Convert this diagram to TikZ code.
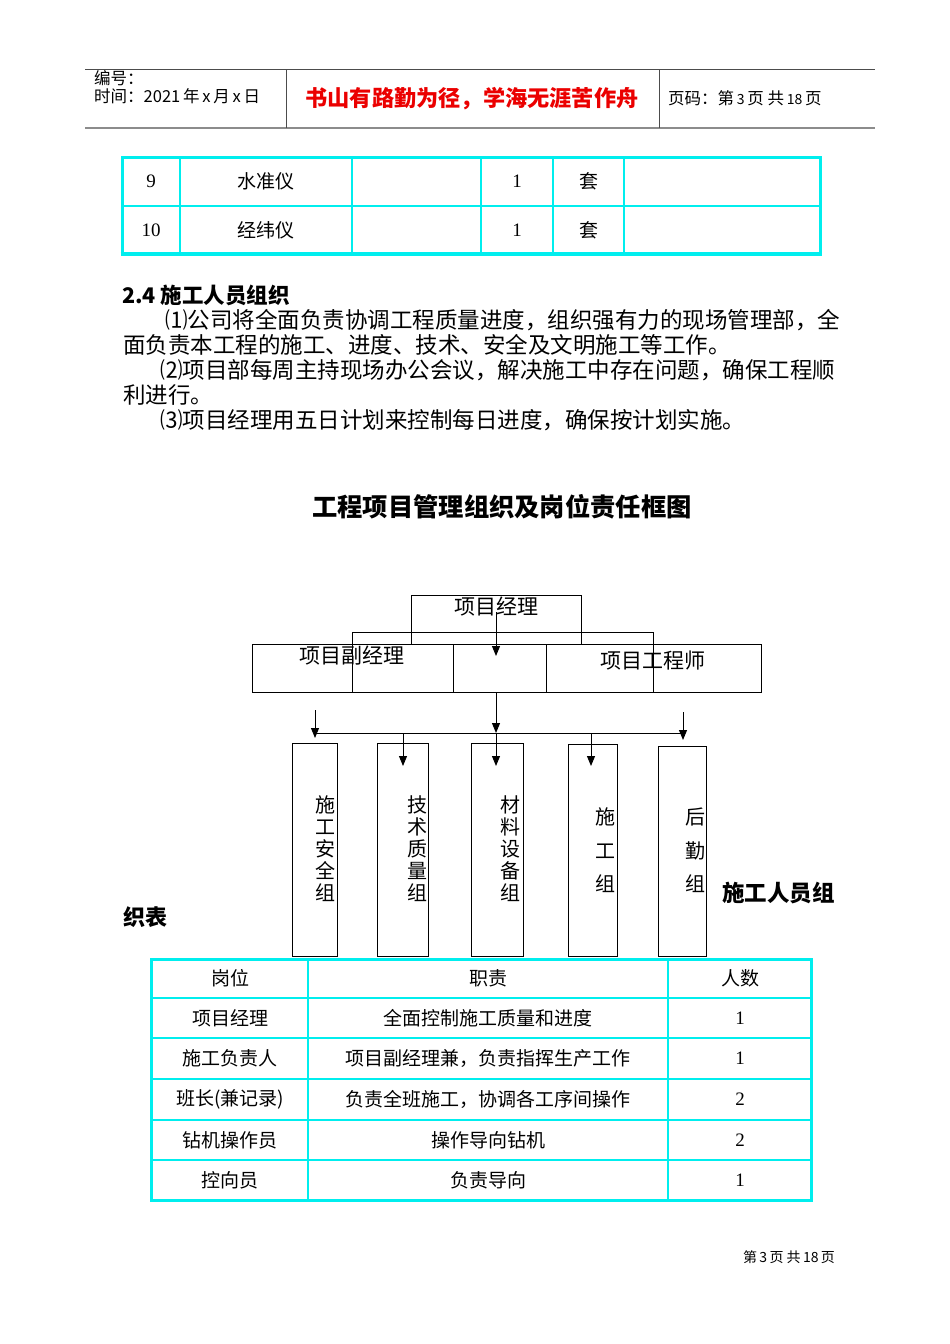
\documentclass[tikz,border=0pt]{standalone}
\usepackage{fontspec}
\setmainfont{Noto Sans CJK SC}
\newfontfamily\ser{Liberation Serif}
\usetikzlibrary{arrows.meta}
\definecolor{tcyan}{RGB}{0,238,238}
\definecolor{tred}{RGB}{235,0,0}
\newcommand\myfs[1]{\fontsize{#1}{#1}\selectfont}
\newcommand\myfsl[2]{\fontsize{#1}{#2}\selectfont}
\begin{document}
\begin{tikzpicture}[x=1pt,y=-1pt,
  box/.style={draw=black, line width=1pt, inner sep=0pt, minimum width=#1},
  vline/.style={draw=black, line width=1pt},
  arr/.style={draw=black, line width=1pt, -{Triangle[width=8pt,length=10pt]}},
  hdr/.style={anchor=west, inner sep=0pt, font=\myfs{16.5}},
  cell/.style={inner sep=0pt, font=\myfs{19}},
  num/.style={inner sep=0pt, font=\ser\myfs{19}},
  para/.style={anchor=west, inner sep=0pt, font=\myfs{22.5}},
  lab/.style={inner sep=0pt, font=\myfs{21}},
  vt/.style={inner sep=0pt, align=center},
  grid/.style={draw=tcyan, line width=1.5pt},
  frame/.style={draw=tcyan, line width=3pt}]
\useasboundingbox (0,0) rectangle (950,1344);
\fill[white] (0,0) rectangle (950,1344);

% ---------- header ----------
\draw[line width=1pt, black!70] (85,69) -- (875,69);
\draw[line width=1.6pt, black!45] (85,128) -- (875,128);
\draw[line width=1pt, black!70] (286,69) -- (286,128);
\draw[line width=1pt, black!70] (659,69) -- (659,128);
\node[hdr] (h1) at (94,78) {编号：};
\node[hdr] (h2) at (94,96) {时间：2021\,年\,x\,月\,x\,日};
\node[inner sep=0pt, font=\bfseries\myfs{22.2}, text=tred] (h3) at (472,99) {书山有路勤为径，学海无涯苦作舟};
\node[hdr] (h4) at (668,98) {页码：第\,{\myfs{14}3}\,页 共\,{\myfs{14}18}\,页};

% ---------- top table ----------
\foreach \x in {180,352,481,553,624} \draw[grid] (\x,157) -- (\x,255);
\draw[grid] (122,206) -- (820,206);
\draw[frame] (122,157) rectangle (820,254);
\draw[draw=tcyan, line width=4.5pt] (120.5,254) -- (821.5,254);
\node[num] (t11) at (151,181) {9};
\node[cell] (t12) at (266,181) {水准仪};
\node[num] (t14) at (517,181) {1};
\node[cell] (t15) at (589,181) {套};
\node[num] (t21) at (151,230) {10};
\node[cell] (t22) at (266,230) {经纬仪};
\node[num] (t24) at (517,230) {1};
\node[cell] (t25) at (589,230) {套};

% ---------- paragraph ----------
\node[anchor=west, inner sep=0pt, font=\bfseries\myfs{21.5}] (sec) at (122,295) {2.4 施工人员组织};
\node[para] (p1) at (165,320) {⑴公司将全面负责协调工程质量进度，组织强有力的现场管理部，全};
\node[para] (p2) at (123,345) {面负责本工程的施工、进度、技术、安全及文明施工等工作。};
\node[para] (p3) at (160,370) {⑵项目部每周主持现场办公会议，解决施工中存在问题，确保工程顺};
\node[para] (p4) at (123,395) {利进行。};
\node[para] (p5) at (160,420) {⑶项目经理用五日计划来控制每日进度，确保按计划实施。};

% ---------- title ----------
\node[inner sep=0pt, font=\bfseries\myfs{25.3}] (title) at (502,507) {工程项目管理组织及岗位责任框图};

% ---------- chart ----------
\node[box=201pt, minimum height=48pt] (dpm) at (352.5,668) {};
\node[box=93pt, minimum height=48pt] (mid) at (499.5,668) {};
\node[box=215pt, minimum height=48pt] (eng) at (653.5,668) {};
\coordinate (bl) at (352,692);
\coordinate (br) at (653,692);
\draw[vline] (bl) -- (352,632) -- (653,632) -- (br);
\node[box=170pt, minimum height=49pt] (pm) at (496,619.5) {};
\node[lab] (pmt) at (496,607) {项目经理};
\node[lab] (dpmt) at (352,656) {项目副经理};
\node[lab] (engt) at (653,661) {项目工程师};

\node[box=45pt, minimum height=213pt] (g1) at (314.5,849.5) {};
\node[box=51pt, minimum height=213pt] (g2) at (402.5,849.5) {};
\node[box=52pt, minimum height=213pt] (g3) at (497,849.5) {};
\node[box=49pt, minimum height=212pt] (g4) at (592.5,850) {};
\node[box=48pt, minimum height=210pt] (g5) at (682,851) {};

\node[vt, font={\myfsl{20}{22}}] (g1t) at (325,849) {施\\工\\安\\全\\组};
\node[vt, font={\myfsl{20}{22}}] (g2t) at (417,849) {技\\术\\质\\量\\组};
\node[vt, font={\myfsl{20}{22}}] (g3t) at (510,849) {材\\料\\设\\备\\组};
\node[vt, font={\myfsl{20}{33.5}}] (g4t) at (605,850.5) {施\\工\\组};
\node[vt, font={\myfsl{20}{33.5}}] (g5t) at (695,850.5) {后\\勤\\组};

\coordinate (pa) at (496,612);
\coordinate (pb) at (496,656);
\draw[arr] (pa) -- (pb);
\coordinate (mb) at (496,692);
\coordinate (hub) at (496,733);
\draw[arr] (mb) -- (hub);
\coordinate (hl) at (315,733);
\coordinate (hr) at (683,733);
\draw[vline] (hl) -- (hr);
\coordinate (la) at (315,710);
\coordinate (lb) at (315,738);
\draw[arr] (la) -- (lb);
\coordinate (ra) at (683,712);
\coordinate (rb) at (683,740);
\draw[arr] (ra) -- (rb);
\coordinate (a2) at (403,733);
\coordinate (b2) at (403,766);
\draw[arr] (a2) -- (b2);
\coordinate (b3) at (496,766);
\draw[arr] (hub) -- (b3);
\coordinate (a4) at (591,733);
\coordinate (b4) at (591,766);
\draw[arr] (a4) -- (b4);

\node[anchor=west, inner sep=0pt, font=\bfseries\myfs{22.5}] (cap1) at (722,893) {施工人员组};
\node[anchor=west, inner sep=0pt, font=\bfseries\myfs{22}] (cap2) at (123,917) {织表};

% ---------- bottom table ----------
\foreach \y in {998,1038,1079,1120,1160} \draw[grid] (151,\y) -- (811,\y);
\draw[grid] (308,959) -- (308,1200);
\draw[grid] (668,959) -- (668,1200);
\draw[frame] (151,959) rectangle (811,1200);
\node[cell] (c01) at (230,978) {岗位};
\node[cell] (c02) at (488,978) {职责};
\node[cell] (c03) at (740,978) {人数};
\node[cell] (c11) at (230,1018) {项目经理};
\node[cell] (c12) at (488,1018) {全面控制施工质量和进度};
\node[num] (c13) at (740,1018) {1};
\node[cell] (c21) at (230,1058) {施工负责人};
\node[cell] (c22) at (488,1058) {项目副经理兼，负责指挥生产工作};
\node[num] (c23) at (740,1058) {1};
\node[cell] (c31) at (230,1099) {班长(兼记录)};
\node[cell] (c32) at (488,1099) {负责全班施工，协调各工序间操作};
\node[num] (c33) at (740,1099) {2};
\node[cell] (c41) at (230,1140) {钻机操作员};
\node[cell] (c42) at (488,1140) {操作导向钻机};
\node[num] (c43) at (740,1140) {2};
\node[cell] (c51) at (230,1180) {控向员};
\node[cell] (c52) at (488,1180) {负责导向};
\node[num] (c53) at (740,1180) {1};

% ---------- footer ----------
\node[inner sep=0pt, font=\myfs{14}] (foot) at (789,1257) {第\,3\,页 共\,18\,页};
\end{tikzpicture}
\end{document}
